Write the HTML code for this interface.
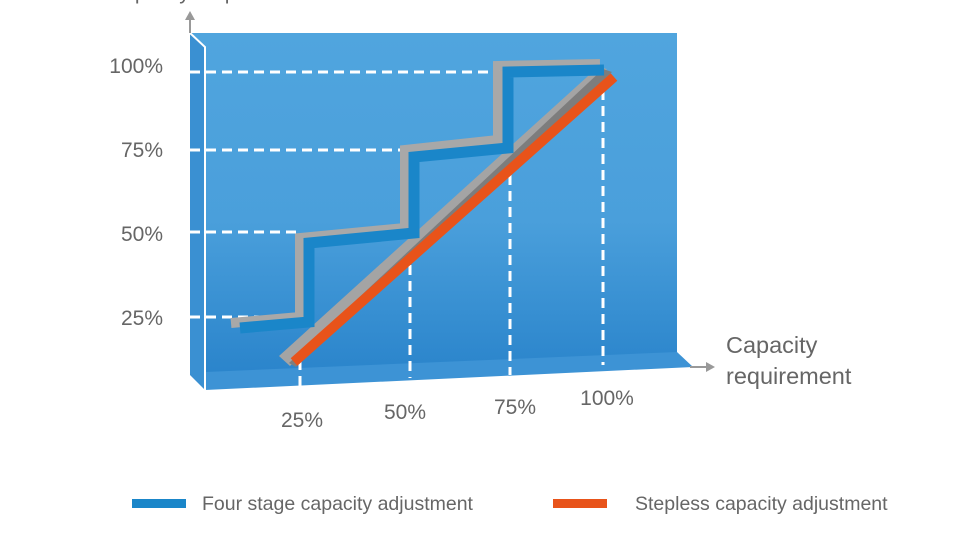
<!DOCTYPE html>
<html><head><style>
html,body{margin:0;padding:0;background:#fff;}
svg{display:block;font-family:"Liberation Sans",sans-serif;}
</style></head><body>
<svg width="960" height="542" viewBox="0 0 960 542">
<defs>
<linearGradient id="bg" x1="0" y1="0" x2="0" y2="1">
<stop offset="0" stop-color="#50a5de"/><stop offset="0.55" stop-color="#4a9fdb"/><stop offset="1" stop-color="#2a84cb"/>
</linearGradient>
</defs>
<text x="108" y="-1" font-size="21" fill="#666">Capacity output</text>
<polygon points="190,33 677,33 677,355 190,375" fill="url(#bg)"/>
<polygon points="190,33 205,47 205,390 190,375" fill="#3a90d2"/>
<polygon points="205,372 677,352 693,367 205,390" fill="#3d93d5"/>
<polyline points="190,33 205,47 205,390" fill="none" stroke="#fff" stroke-width="2"/>
<line x1="190" y1="33" x2="190" y2="18" stroke="#999" stroke-width="2"/>
<polygon points="185,20 190,11 195,20" fill="#999"/>
<line x1="690" y1="367" x2="708" y2="367" stroke="#999" stroke-width="2"/>
<polygon points="706,362 715,367 706,372" fill="#999"/>
<g stroke="#fff" stroke-width="3" stroke-dasharray="10,6" fill="none">
<line x1="190" y1="72" x2="500" y2="72"/>
<line x1="190" y1="150" x2="405" y2="150"/>
<line x1="190" y1="232" x2="300" y2="232"/>
<line x1="190" y1="317" x2="300" y2="317"/>
<line x1="300" y1="360" x2="300" y2="388"/>
<line x1="410" y1="265" x2="410" y2="378"/>
<line x1="510" y1="175" x2="510" y2="375"/>
<line x1="603" y1="90" x2="603" y2="365"/>
</g>
<polygon points="279,356 598,67 607,69 290,366" fill="#a4a4a4"/>
<polygon points="289,363 603,69 612,72 296,367" fill="#7d7d7d"/>
<line x1="294" y1="362" x2="614" y2="77" stroke="#e8531a" stroke-width="10"/>
<polyline points="231,323 300,317 300,238 405,228 405,150 498,140 498,66 600,64" fill="none" stroke="#a8a8a8" stroke-width="10" stroke-linejoin="miter"/>
<polyline points="240,328 309,322 309,243 414,233 414,157 508,148 508,72 604,70" fill="none" stroke="#1a86c9" stroke-width="11" stroke-linejoin="miter"/>
<g font-size="21" fill="#666" text-anchor="end">
<text x="163" y="73">100%</text>
<text x="163" y="157">75%</text>
<text x="163" y="241">50%</text>
<text x="163" y="325">25%</text>
</g>
<g font-size="21" fill="#666" text-anchor="middle">
<text x="302" y="427">25%</text>
<text x="405" y="419">50%</text>
<text x="515" y="414">75%</text>
<text x="607" y="405">100%</text>
</g>
<text x="726" y="353" font-size="23.5" fill="#666">Capacity</text>
<text x="726" y="384" font-size="23.5" fill="#666">requirement</text>
<rect x="132" y="499" width="54" height="9" fill="#1a86c9"/>
<text x="202" y="510" font-size="19.5" fill="#666">Four stage capacity adjustment</text>
<rect x="553" y="499" width="54" height="9" fill="#e8531a"/>
<text x="635" y="510" font-size="19.5" fill="#666">Stepless capacity adjustment</text>
</svg>
</body></html>
